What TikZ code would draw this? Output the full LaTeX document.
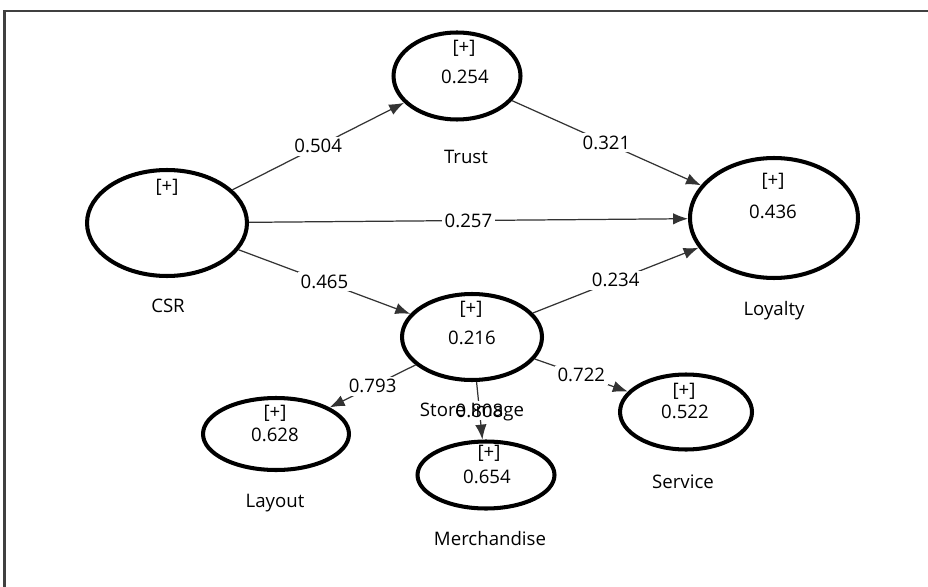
\documentclass[tikz,border=0pt]{standalone}
\usepackage{fontspec}
\setmainfont{Open Sans}
\usetikzlibrary{arrows.meta,shapes.geometric}

\tikzset{
  latent/.style={draw, ellipse, line width=2.3pt, inner sep=0pt},
  txt/.style={inner sep=0pt, text=black, font=\fontsize{10.6}{12}\selectfont},
  coef/.style={txt, fill=white, inner sep=1.5pt},
  path/.style={draw, line width=0.7pt, black!80, -{Latex[length=8.5pt,width=6.5pt]}}
}

\begin{document}
\begin{tikzpicture}[x=0.02cm, y=-0.02cm]
\useasboundingbox (0,0) rectangle (928,587);
\draw[line width=1.4pt, black!75] (4.5,587) -- (4.5,11) -- (928,11);

\node[latent, minimum width=3.2cm, minimum height=2.12cm] (csr) at (167,223) {};
\node[latent, minimum width=2.54cm, minimum height=1.74cm] (trust) at (457,76) {};
\node[latent, minimum width=3.36cm, minimum height=2.4cm] (loyalty) at (774,218) {};
\node[latent, minimum width=2.8cm, minimum height=1.72cm] (image) at (472,337) {};
\node[latent, minimum width=2.92cm, minimum height=1.44cm] (layout) at (276,434) {};
\node[latent, minimum width=2.74cm, minimum height=1.34cm] (merch) at (486,475) {};
\node[latent, minimum width=2.64cm, minimum height=1.5cm] (service) at (686,412) {};

\node[txt] (csrp) at (167,187) {[+]};
\node[txt] (trustp) at (464,48) {[+]};
\node[txt] (trustr) at (465,77) {0.254};
\node[txt] (loyaltyp) at (773,181) {[+]};
\node[txt] (loyaltyr) at (773,212) {0.436};
\node[txt] (imagep) at (471,309) {[+]};
\node[txt] (imager) at (472,338) {0.216};
\node[txt] (layoutp) at (275,413) {[+]};
\node[txt] (layoutr) at (275,435) {0.628};
\node[txt] (merchp) at (489,453) {[+]};
\node[txt] (merchr) at (487,477) {0.654};
\node[txt] (servicep) at (684,391) {[+]};
\node[txt] (servicer) at (685,412) {0.522};

\path[path] (csr) -- node[coef] {0.504} (trust);
\path[path] (trust) -- node[coef] {0.321} (loyalty);
\path[path] (csr) -- node[coef] {0.257} (loyalty);
\path[path] (csr) -- node[coef] {0.465} (image);
\path[path] (image) -- node[coef] {0.234} (loyalty);
\path[path] (image) -- node[coef] {0.793} (layout);
\path[path] (image) -- node[coef] {0.808} (merch);
\path[path] (image) -- node[coef] {0.722} (service);

\node[txt] (csrn) at (168,306) {CSR};
\node[txt] (trustn) at (466,157) {Trust};
\node[txt] (loyaltyn) at (774,311) {Loyalty};
\node[txt] (imagen) at (472,412) {Store Image};
\node[txt] (layoutn) at (275,503) {Layout};
\node[txt] (merchn) at (490,539) {Merchandise};
\node[txt] (servicen) at (683,482) {Service};
\end{tikzpicture}
\end{document}
